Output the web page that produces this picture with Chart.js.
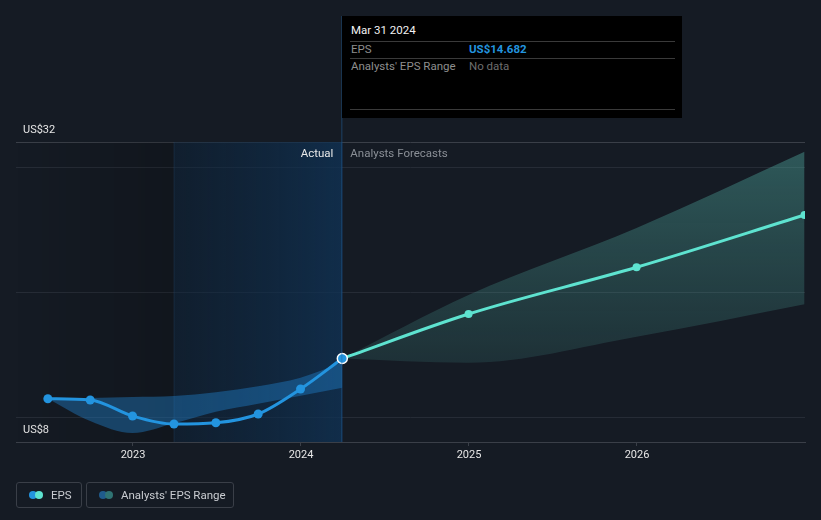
<!DOCTYPE html>
<html>
<head>
<meta charset="utf-8">
<script src="https://cdn.jsdelivr.net/npm/chart.js@4"></script>
<style>
  html, body { margin: 0; padding: 0; background: #151b24; }
  body { width: 821px; height: 520px; position: relative; overflow: hidden; font-family: Roboto, "Open Sans", sans-serif; }
  #wrap { position: absolute; left: 0; top: 0; width: 821px; height: 520px; }
  #tip { position: absolute; left: 342px; top: 16px; width: 340px; height: 102px; background: #000; }
  #tip .t { position: absolute; left: 9px; top: 7px; color: #f2f2f2; font-size: 11.5px; }
  #tip .ln { position: absolute; left: 8px; width: 325px; height: 1px; background: #3a3a3a; }
  #tip .k { position: absolute; left: 9px; color: #8e8e8e; font-size: 11.5px; }
  #tip .v { position: absolute; left: 127px; font-size: 11.5px; }
  .lg { position: absolute; top: 482px; height: 26px; border: 1px solid #3a3f48; border-radius: 3px; box-sizing: border-box; }
  .lg .dot { position: absolute; top: 8px; width: 8px; height: 8px; border-radius: 50%; }
  .lg .tx { position: absolute; top: 5px; color: #c9ccd1; font-size: 11.5px; white-space: nowrap; }
</style>
</head>
<body>
<div id="wrap"><canvas id="c" width="821" height="520"></canvas></div>
<div id="tip">
  <div class="t">Mar 31 2024</div>
  <div class="ln" style="top:25px"></div>
  <div class="k" style="top:26px">EPS</div>
  <div class="v" style="top:26px;color:#2394df;font-weight:bold">US$14.682</div>
  <div class="ln" style="top:42px"></div>
  <div class="k" style="top:43px">Analysts' EPS Range</div>
  <div class="v" style="top:43px;color:#6e6e6e">No data</div>
  <div class="ln" style="top:93px"></div>
</div>
<div class="lg" style="left:16px;width:66px">
  <div class="dot" style="left:12px;background:#2394df"></div>
  <div class="dot" style="left:18px;background:#5ee3d0"></div>
  <div class="tx" style="left:34px">EPS</div>
</div>
<div class="lg" style="left:86px;width:148px">
  <div class="dot" style="left:12px;background:#1f5b8c"></div>
  <div class="dot" style="left:18px;background:#2f7373"></div>
  <div class="tx" style="left:34px">Analysts' EPS Range</div>
</div>
<script>
// ---- data ----
const epsDates = ['2022-06-30','2022-09-30','2022-12-31','2023-03-31','2023-06-30','2023-09-30','2023-12-31','2024-03-31'];
const epsValues = [11.46, 11.36, 10.08, 9.44, 9.54, 10.24, 12.24, 14.682];
const pastRangeHigh = [11.46, 11.52, 11.60, 11.68, 11.98, 12.46, 13.14, 14.38];
const pastRangeLow  = [11.46, 9.68, 8.72, 9.5, 10.42, 11.06, 11.70, 12.34];
const forecastDates = ['2024-03-31','2024-12-31','2025-12-31','2026-12-31'];
const forecastValues = [14.682, 18.24, 21.98, 26.16];
const forecastHigh = [14.682, 19.76, 25.12, 31.22];
const forecastLow  = [14.682, 14.34, 16.42, 19.02];
const yearTicks = [2023, 2024, 2025, 2026];
const yTicks = [8, 10, 20, 30, 32];
const yLabelTicks = [8, 32];
const actualEndDate = '2024-03-31';
const highlightStartDate = '2023-03-31';
const xMinYear = 2022.3036;
const xMaxYear = 2027.0;

function toYear(s) {
  const [y, m, d] = s.split('-').map(Number);
  const start = Date.UTC(y, 0, 1), end = Date.UTC(y + 1, 0, 1);
  return y + (Date.UTC(y, m - 1, d) - start) / (end - start);
}
const pts = (dates, vals) => dates.map((d, i) => ({ x: toYear(d), y: vals[i] }));

const BLUE = '#2394df', TEAL = '#5ee3d0';

const bgPlugin = {
  id: 'bg',
  beforeDatasetsDraw(chart) {
    const { ctx, chartArea: a, scales: { x } } = chart;
    const xs = x.getPixelForValue(toYear(highlightStartDate));
    const xe = x.getPixelForValue(toYear(actualEndDate));
    ctx.save();
    let g = ctx.createLinearGradient(a.left, 0, xs, 0);
    g.addColorStop(0, 'rgba(0,0,0,0)');
    g.addColorStop(1, 'rgba(0,0,0,0.18)');
    ctx.fillStyle = g;
    ctx.fillRect(a.left, a.top, xs - a.left, a.bottom - a.top);
    g = ctx.createLinearGradient(xs, 0, xe, 0);
    g.addColorStop(0, 'rgba(12,36,60,0.45)');
    g.addColorStop(1, 'rgba(16,50,84,0.8)');
    ctx.fillStyle = g;
    ctx.fillRect(xs, a.top, xe - xs, a.bottom - a.top);
    ctx.fillStyle = 'rgba(50,95,140,0.22)';
    ctx.fillRect(Math.round(xs) - 0.5, a.top, 1, a.bottom - a.top);
    ctx.restore();
  },
  afterDraw(chart) {
    const { ctx, chartArea: a, scales: { x } } = chart;
    const xe = x.getPixelForValue(toYear(actualEndDate));
    ctx.save();
    ctx.fillStyle = 'rgba(35,100,160,0.35)';
    ctx.fillRect(Math.round(xe) - 1, 16, 1.5, a.bottom - 16);
    ctx.font = '11.5px Roboto';
    ctx.textBaseline = 'middle';
    ctx.textAlign = 'right';
    ctx.fillStyle = '#e8e8e8';
    ctx.fillText('Actual', xe - 9, a.top + 12);
    ctx.textAlign = 'left';
    ctx.fillStyle = '#8a8f96';
    ctx.fillText('Analysts Forecasts', xe + 8, a.top + 12);
    ctx.restore();
  }
};

new Chart(document.getElementById('c'), {
  type: 'line',
  data: {
    datasets: [
      {
        label: 'EPS', data: pts(epsDates, epsValues), borderColor: BLUE, backgroundColor: BLUE,
        borderWidth: 3, cubicInterpolationMode: 'monotone', fill: false, order: 0,
        pointRadius: epsValues.map((v, i) => i === epsValues.length - 1 ? 5 : 4.5),
        pointBorderColor: epsValues.map((v, i) => i === epsValues.length - 1 ? '#ffffff' : BLUE),
        pointBorderWidth: epsValues.map((v, i) => i === epsValues.length - 1 ? 1.5 : 0),
        pointBackgroundColor: BLUE
      },
      {
        label: 'EPS forecast', data: pts(forecastDates, forecastValues), borderColor: TEAL, backgroundColor: TEAL,
        borderWidth: 3, cubicInterpolationMode: 'monotone', fill: false, order: 1, clip: 0,
        pointRadius: forecastValues.map((v, i) => i === 0 ? 0 : 4), pointBorderWidth: 0
      },
      {
        label: 'past high', data: pts(epsDates, pastRangeHigh), borderWidth: 0, pointRadius: 0,
        cubicInterpolationMode: 'monotone', fill: false, order: 2
      },
      {
        label: 'past low', data: pts(epsDates, pastRangeLow), borderWidth: 0, pointRadius: 0,
        cubicInterpolationMode: 'monotone', fill: '-1', backgroundColor: 'rgba(35,140,220,0.38)', order: 2
      },
      {
        label: 'fc high', data: pts(forecastDates, forecastHigh), borderWidth: 0, pointRadius: 0,
        cubicInterpolationMode: 'monotone', fill: false, order: 3
      },
      {
        label: 'fc low', data: pts(forecastDates, forecastLow), borderWidth: 0, pointRadius: 0,
        cubicInterpolationMode: 'monotone', fill: '-1', order: 3,
        backgroundColor: (c) => {
          const a = c.chart.chartArea;
          if (!a) return 'rgba(80,170,160,0.3)';
          const y = c.chart.scales.y;
          const g = c.chart.ctx.createLinearGradient(0, a.top, 0, y.getPixelForValue(14));
          g.addColorStop(0, 'rgba(80,170,160,0.44)');
          g.addColorStop(1, 'rgba(80,170,160,0.15)');
          return g;
        }
      }
    ]
  },
  options: {
    responsive: false, animation: false, events: [],
    layout: { padding: { left: 2, right: 16, top: 142, bottom: 54.8 } },
    plugins: { legend: { display: false }, tooltip: { enabled: false } },
    scales: {
      x: {
        type: 'linear', min: xMinYear, max: xMaxYear,
        afterBuildTicks: (ax) => { ax.ticks = yearTicks.map(v => ({ value: v })); },
        grid: { drawOnChartArea: false, drawTicks: true, tickLength: 4, color: '#3a3f48' },
        border: { display: true, color: '#3a3f48' },
        ticks: { color: '#e6e6e6', font: { family: 'Roboto', size: 11 }, padding: 3, maxRotation: 0, callback: (v) => String(v) }
      },
      y: {
        min: 8, max: 32,
        afterBuildTicks: (ax) => { ax.ticks = yTicks.map(v => ({ value: v })); },
        grid: { drawTicks: false, color: (c) => (c.tick && (c.tick.value === 8 || c.tick.value === 32)) ? '#3a3f48' : '#262c36' },
        border: { display: false },
        ticks: {
          mirror: true, padding: 7, labelOffset: -12, color: '#e6e6e6', font: { family: 'Roboto', size: 11 },
          callback: (v) => yLabelTicks.includes(v) ? 'US$' + v : ''
        }
      }
    }
  },
  plugins: [bgPlugin]
});
</script>
</body>
</html>
